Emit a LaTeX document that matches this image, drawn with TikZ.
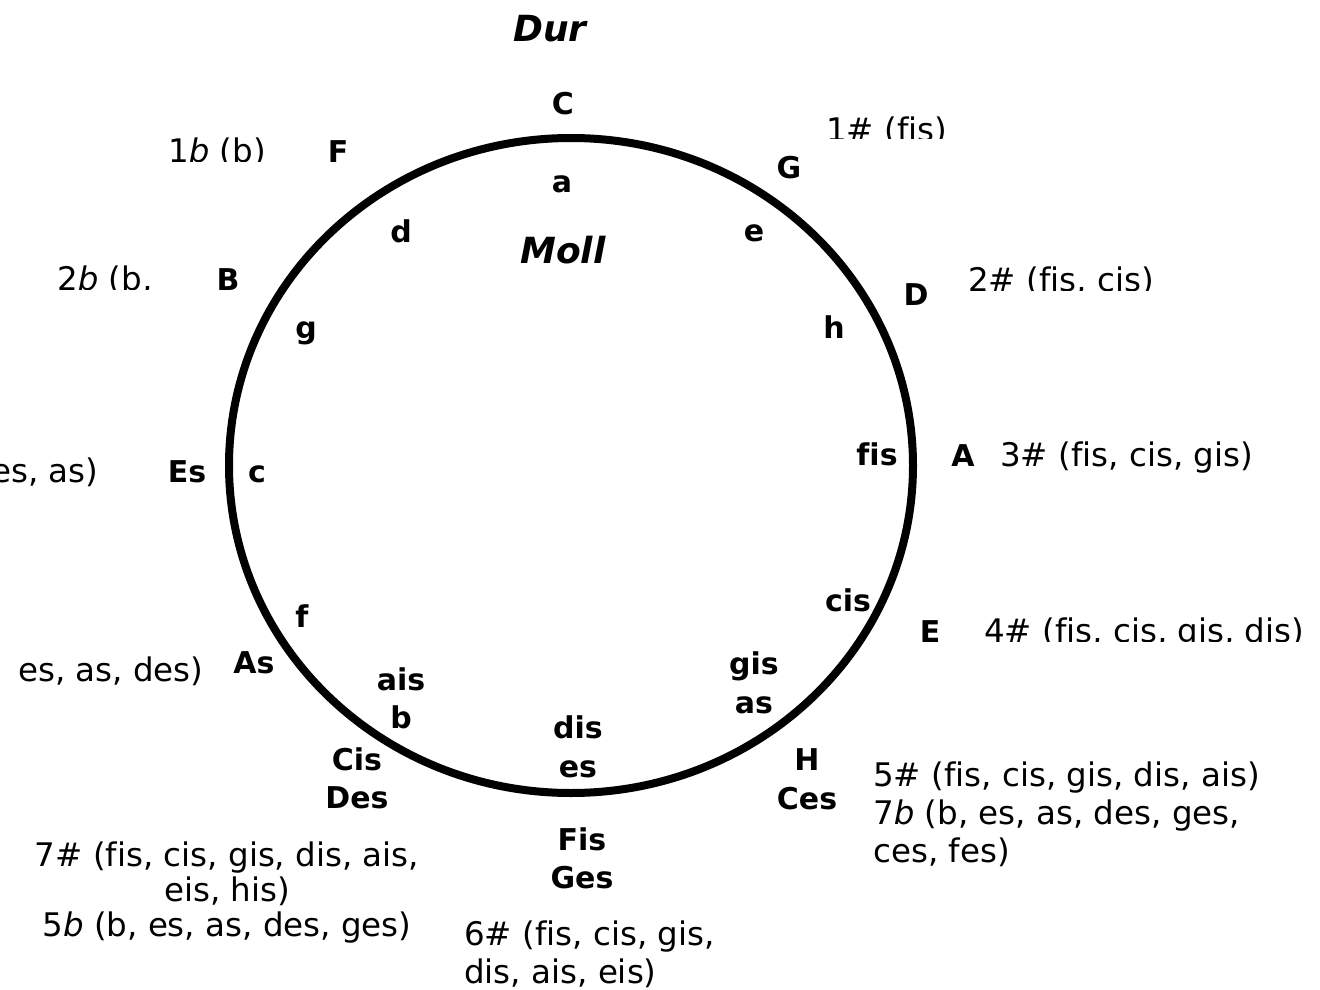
\documentclass[tikz,border=0pt]{standalone}
\usepackage{fontspec}
\setmainfont{DejaVu Sans}[Ligatures=NoCommon]
\newcommand\keyfnt{\fontsize{30}{36}\selectfont\bfseries}
\newcommand\sigfnt{\fontsize{32.5}{38}\selectfont}
\newcommand\ttlfnt{\fontsize{36}{40}\selectfont\bfseries\itshape}
\tikzset{
  key/.style={font=\keyfnt, inner sep=0pt, anchor=base},
  sig/.style={font=\sigfnt, inner sep=0pt, anchor=base west},
  sigc/.style={font=\sigfnt, inner sep=0pt, anchor=base},
  ttl/.style={font=\ttlfnt, inner sep=0pt, anchor=base},
  ring/.style={line width=8pt}
}
\begin{document}
\begin{tikzpicture}[x=1pt,y=-1pt]
\clip (0,0) rectangle (1320,990);
\fill[white] (0,0) rectangle (1320,990);
% circle
\draw[ring] (571,465.5) ellipse [x radius=342pt, y radius=327.5pt];
% titles
\node[ttl] (dur) at (550,42) {Dur};
\node[ttl] (moll) at (563,263) {Moll};
% major keys (outside)
\node[key] (C) at (563,114) {C};
\node[key] (G) at (789,178) {G};
\node[key] (D) at (916,305) {D};
\node[key] (A) at (963,466) {A};
\node[key] (E) at (930,642) {E};
\node[key] (H) at (807,770) {H};
\node[key] (Ces) at (807,809) {Ces};
\node[key] (Fis) at (582,850) {Fis};
\node[key] (Ges) at (582,888) {Ges};
\node[key] (Cis) at (357,770) {Cis};
\node[key] (Des) at (357,808) {Des};
\node[key] (As) at (254,673) {As};
\node[key] (Es) at (187,482) {Es};
\node[key] (B) at (228,290) {B};
\node[key] (F) at (338,162) {F};
% minor keys (inside)
\node[key] (ma) at (562,192) {a};
\node[key] (me) at (754,241) {e};
\node[key] (mh) at (834,338) {h};
\node[key] (mfis) at (877,465) {fis};
\node[key] (mcis) at (848,611) {cis};
\node[key] (mgis) at (754,674) {gis};
\node[key] (mas) at (754,713) {as};
\node[key] (mdis) at (578,738) {dis};
\node[key] (mes) at (578,777) {es};
\node[key] (mais) at (401,690) {ais};
\node[key] (mb) at (401,728) {b};
\node[key] (mf) at (302,627) {f};
\node[key] (mc) at (257,482) {c};
\node[key] (mg) at (306,338) {g};
\node[key] (md) at (401,242) {d};
% signatures
\begin{scope}
  \clip (800,100) rectangle (1320,138);
  \node[sig] (s1) at (826,141) {1\# (fis)};
\end{scope}
\begin{scope}
  \clip (940,250) rectangle (1320,290);
  \node[sig] (s2) at (968,291) {2\# (fis, cis)};
\end{scope}
\node[sig] (s3) at (1000,466) {3\# (fis, cis, gis)};
\begin{scope}
  \clip (960,600) rectangle (1320,641);
  \node[sig] (s4) at (984,642) {4\# (fis, cis, gis, dis)};
\end{scope}
\node[sig] (s5a) at (873,786) {5\# (fis, cis, gis, dis, ais)};
\node[sig] (s5b) at (873,824) {7\textit{b} (b, es, as, des, ges,};
\node[sig] (s5c) at (873,862) {ces, fes)};
\node[sig] (s6a) at (464,945) {6\# (fis, cis, gis,};
\node[sig] (s6b) at (464,983) {dis, ais, eis)};
\node[sigc] (s7a) at (227,866) {7\# (fis, cis, gis, dis, ais,};
\node[sigc] (s7b) at (227,901) {eis, his)};
\node[sigc] (s7c) at (227,936) {5\textit{b} (b, es, as, des, ges)};
\node[sig] (f4) at (18,681) {es, as, des)};
\node[sig] (f3) at (-9,482) {es, as)};
\begin{scope}
  \clip (30,250) rectangle (200,289);
  \node[sig] (f2) at (57,290) {2\textit{b} (b,};
\end{scope}
\begin{scope}
  \clip (140,120) rectangle (300,161);
  \node[sig] (f1) at (168,162) {1\textit{b} (b)};
\end{scope}
\end{tikzpicture}
\end{document}
